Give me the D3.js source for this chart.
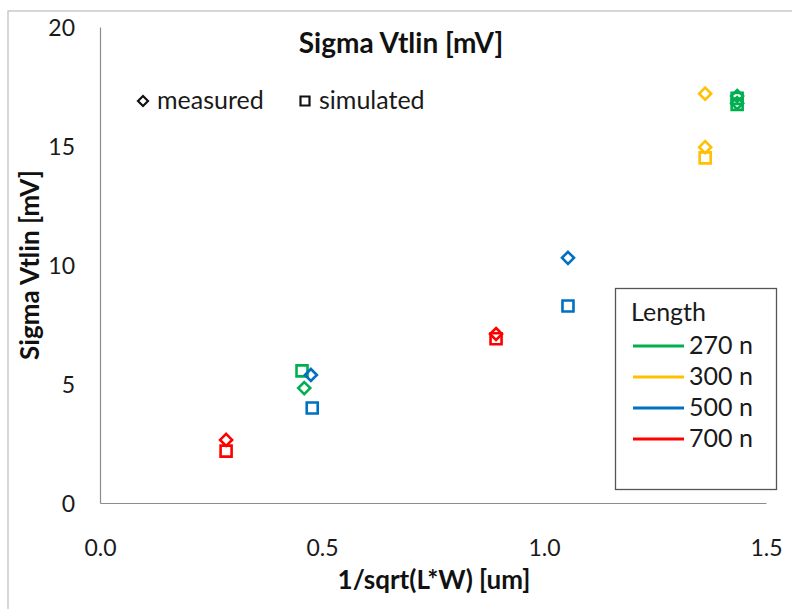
<!DOCTYPE html>
<html>
<head>
<meta charset="utf-8">
<script src="https://cdn.jsdelivr.net/npm/d3@7"></script>
<style>
  html, body { margin: 0; padding: 0; background: #fff; }
  svg { display: block; font-family: Lato, "Open Sans", sans-serif; }
</style>
</head>
<body>
<svg id="chart" width="792" height="609"></svg>
<script>
// Length groups and their colours
const lengths = ["270 n", "300 n", "500 n", "700 n"];
const colors = ["#00B050", "#FFC000", "#0070C0", "#FF0000"];

// Measured sigma Vt (diamonds): [1/sqrt(L*W), sigma] per length
const measured270 = [[0.46, 4.83], [1.435, 17.1], [1.435, 16.8]];
const measured300 = [[1.363, 17.2], [1.363, 14.95]];
const measured500 = [[0.475, 5.38], [1.054, 10.3]];
const measured700 = [[0.284, 2.65], [0.892, 7.1]];

// Simulated sigma Vt (squares)
const simulated270 = [[0.455, 5.55], [1.435, 17.0], [1.435, 16.75]];
const simulated300 = [[1.363, 14.5]];
const simulated500 = [[0.478, 3.99], [1.054, 8.28]];
const simulated700 = [[0.284, 2.18], [0.892, 6.9]];

const xTicks = [0, 0.5, 1.0, 1.5];
const yTicks = [0, 5, 10, 15, 20];

const measuredSets = [measured270, measured300, measured500, measured700];
const simulatedSets = [simulated270, simulated300, simulated500, simulated700];

const svg = d3.select("#chart");

// outer chart frame
svg.append("rect")
  .attr("x", 8).attr("y", 11).attr("width", 800).attr("height", 620)
  .attr("fill", "none").attr("stroke", "#bcbcbc").attr("stroke-width", 1.2);

const x = d3.scaleLinear().domain([0, 1.5]).range([100, 766]);
const y = d3.scaleLinear().domain([0, 20]).range([503, 27]);

// axes: plain grey lines, no tick marks
const xAxis = d3.axisBottom(x).tickValues(xTicks).tickFormat(d3.format(".1f")).tickSize(0).tickPadding(0);
const yAxis = d3.axisLeft(y).tickValues(yTicks).tickFormat(d3.format("d")).tickSize(0).tickPadding(0);

const gx = svg.append("g").attr("transform", `translate(0,${y(0)})`).call(xAxis);
gx.select(".domain").attr("stroke", "#8c8c8c").attr("stroke-width", 1.2);
gx.selectAll("text")
  .attr("dy", null).attr("y", 53)
  .attr("font-size", 23).attr("fill", "#1a1a1a")
  .attr("font-family", "Lato, sans-serif");

const gy = svg.append("g").attr("transform", `translate(${x(0)},0)`).call(yAxis);
gy.select(".domain").attr("stroke", "#8c8c8c").attr("stroke-width", 1.2);
gy.selectAll("text")
  .attr("x", -25).attr("dy", "0.35em")
  .attr("font-size", 23).attr("fill", "#1a1a1a")
  .attr("font-family", "Lato, sans-serif");

// titles
svg.append("text").attr("x", 401).attr("y", 53).attr("text-anchor", "middle")
  .attr("font-size", 28).attr("font-weight", "bold").attr("fill", "#111")
  .text("Sigma Vtlin [mV]");

svg.append("text").attr("x", 434).attr("y", 589).attr("text-anchor", "middle")
  .attr("font-size", 26).attr("font-weight", "bold").attr("fill", "#111")
  .text("1/sqrt(L*W) [um]");

svg.append("text")
  .attr("transform", `translate(39,${y(10)}) rotate(-90)`)
  .attr("text-anchor", "middle")
  .attr("font-size", 26).attr("font-weight", "bold").attr("fill", "#111")
  .text("Sigma Vtlin  [mV]");

const diamond = s => `M0,${-s}L${s},0L0,${s}L${-s},0Z`;
const square = s => `M${-s},${-s}H${s}V${s}H${-s}Z`;

// data markers
const marks = svg.append("g");
simulatedSets.forEach((set, i) => {
  marks.selectAll(null).data(set).enter().append("path")
    .attr("d", square(5.5))
    .attr("transform", d => `translate(${x(d[0])},${y(d[1])})`)
    .attr("fill", "none").attr("stroke", colors[i]).attr("stroke-width", 2.6);
});
measuredSets.forEach((set, i) => {
  marks.selectAll(null).data(set).enter().append("path")
    .attr("d", diamond(6))
    .attr("transform", d => `translate(${x(d[0])},${y(d[1])})`)
    .attr("fill", "none").attr("stroke", colors[i]).attr("stroke-width", 2.6);
});

// marker-shape legend
svg.append("path").attr("d", diamond(5)).attr("transform", "translate(143,101)")
  .attr("fill", "none").attr("stroke", "#111").attr("stroke-width", 2.2);
svg.append("text").attr("x", 157).attr("y", 109).attr("font-size", 25).attr("fill", "#1a1a1a").text("measured");
svg.append("path").attr("d", square(4.5)).attr("transform", "translate(305,101)")
  .attr("fill", "none").attr("stroke", "#111").attr("stroke-width", 2.2);
svg.append("text").attr("x", 319).attr("y", 109).attr("font-size", 25).attr("fill", "#1a1a1a").text("simulated");

// colour legend
const lg = svg.append("g");
lg.append("rect").attr("x", 615.5).attr("y", 288.5).attr("width", 161).attr("height", 201)
  .attr("fill", "#fff").attr("stroke", "#555").attr("stroke-width", 1.3);
lg.append("text").attr("x", 631).attr("y", 321).attr("font-size", 25).attr("fill", "#1a1a1a").text("Length");
const rows = lg.selectAll(null).data(lengths).enter().append("g")
  .attr("transform", (d, i) => `translate(0,${346 + i * 31})`);
rows.append("line").attr("x1", 633).attr("x2", 684).attr("y1", 0).attr("y2", 0)
  .attr("stroke", (d, i) => colors[i]).attr("stroke-width", 3);
rows.append("text").attr("x", 689).attr("y", 8).attr("font-size", 25).attr("fill", "#1a1a1a")
  .text(d => d);
</script>
</body>
</html>
